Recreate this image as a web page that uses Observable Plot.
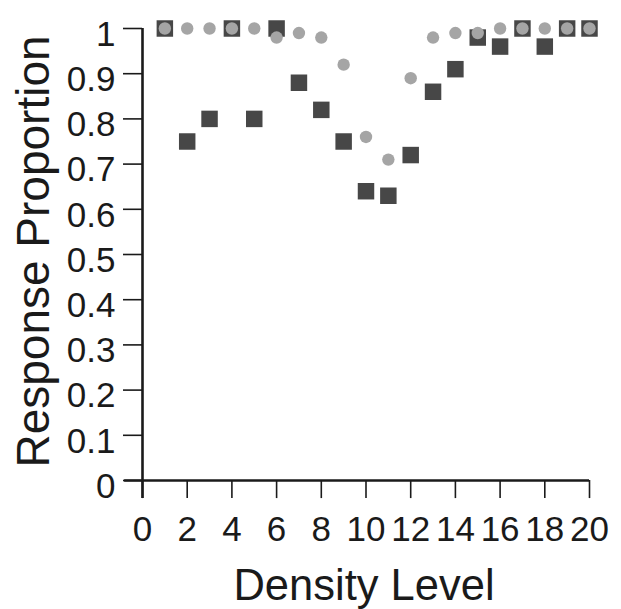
<!DOCTYPE html>
<html>
<head>
<meta charset="utf-8">
<script src="https://cdn.jsdelivr.net/npm/d3@7"></script>
<script src="https://cdn.jsdelivr.net/npm/@observablehq/plot@0.6"></script>
<style>
  html, body { margin: 0; padding: 0; background: #fff; }
  #chart svg { display: block; }
</style>
</head>
<body>
<div id="chart"></div>
<script>
const densityLevels = [1,2,3,4,5,6,7,8,9,10,11,12,13,14,15,16,17,18,19,20];
const squareValues = [1.00,0.75,0.80,1.00,0.80,1.00,0.88,0.82,0.75,0.64,0.63,0.72,0.86,0.91,0.98,0.96,1.00,0.96,1.00,1.00];
const circleValues = [1.00,1.00,1.00,1.00,1.00,0.98,0.99,0.98,0.92,0.76,0.71,0.89,0.98,0.99,0.99,1.00,1.00,1.00,1.00,1.00];
const xTicks = [0,2,4,6,8,10,12,14,16,18,20];
const yTicks = [0,0.1,0.2,0.3,0.4,0.5,0.6,0.7,0.8,0.9,1];
const yTickLabels = ["0","0.1","0.2","0.3","0.4","0.5","0.6","0.7","0.8","0.9","1"];
const xLabel = "Density Level";
const yLabel = "Response Proportion";

const squares = densityLevels.map((x, i) => ({x, y: squareValues[i]}));
const circles = densityLevels.map((x, i) => ({x, y: circleValues[i]}));
const font = "'Liberation Sans', Arial, Helvetica, sans-serif";
const ink = "#1a1a1a";

const chart = Plot.plot({
  width: 621,
  height: 609,
  marginLeft: 142,
  marginRight: 32,
  marginTop: 28,
  marginBottom: 129,
  style: {fontFamily: font, color: ink, background: "#fff", overflow: "visible"},
  x: {domain: [0, 20], axis: null},
  y: {domain: [0, 1], axis: null},
  marks: [
    Plot.ruleX(xTicks, {y1: 0, y2: -0.04, strokeWidth: 1.6, stroke: ink}),
    Plot.ruleY(yTicks, {x1: -0.85, x2: 0, strokeWidth: 1.6, stroke: ink}),
    Plot.text(xTicks, {x: d => d, text: d => String(d), frameAnchor: "bottom", dy: 36, lineAnchor: "top", textAnchor: "middle", fontSize: 35, fill: ink}),
    Plot.text(yTicks, {y: d => d, text: (d, i) => yTickLabels[i], frameAnchor: "left", dx: -27, dy: 6, textAnchor: "end", lineAnchor: "middle", fontSize: 35, fill: ink}),
    Plot.ruleX([0], {y1: -0.04, y2: 1, strokeWidth: 2.6, stroke: ink}),
    Plot.ruleY([0], {x1: -0.8, x2: 20, strokeWidth: 2.6, stroke: ink}),
    Plot.dot(squares, {x: "x", y: "y", symbol: "square", r: 9.3, fill: "#474747", stroke: null}),
    Plot.dot(circles, {x: "x", y: "y", symbol: "circle", r: 6.2, fill: "#a5a5a5", stroke: null}),
    Plot.text([yLabel], {frameAnchor: "left", rotate: -90, dx: -94, dy: -3, textAnchor: "middle", lineAnchor: "bottom", fontSize: 46, fill: ink}),
    Plot.text([xLabel], {frameAnchor: "bottom", dx: -2, dy: 119, textAnchor: "middle", lineAnchor: "bottom", fontSize: 43.5, fill: ink})
  ]
});
document.getElementById("chart").appendChild(chart);
</script>
</body>
</html>
